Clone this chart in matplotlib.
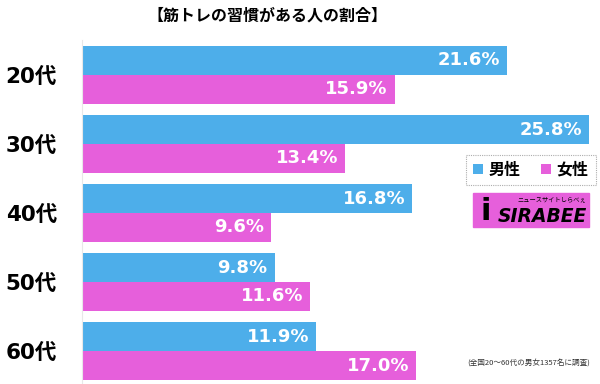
import matplotlib.pyplot as plt
import matplotlib.patches as mpatches
import numpy as np

plt.rcParams['font.family'] = ['Noto Sans CJK JP', 'DejaVu Sans']

ages = ["20代", "30代", "40代", "50代", "60代"]
male = [21.6, 25.8, 16.8, 9.8, 11.9]
female = [15.9, 13.4, 9.6, 11.6, 17.0]
series_labels = ["男性", "女性"]
title = "【筋トレの習慣がある人の割合】"
note = "(全国20〜60代の男女1357名に調査)"

blue = "#4daeea"
pink = "#e65fdb"
num_font = ["DejaVu Sans", "Noto Sans CJK JP"]

W, H = 600, 384
fig = plt.figure(figsize=(W / 100, H / 100), dpi=100)
ax = fig.add_axes([82 / W, 0, 1 - 82 / W, (H - 40) / H])

y = np.arange(len(ages))
h = 0.42
b1 = ax.barh(y - h / 2, male, height=h, color=blue, label=series_labels[0])
b2 = ax.barh(y + h / 2, female, height=h, color=pink, label=series_labels[1])

ax.set_xlim(0, (W - 82) / 19.66)
ax.set_ylim(4.478, -0.507)

for bars, vals in [(b1, male), (b2, female)]:
    for bar, v in zip(bars, vals):
        ax.annotate(f"{v:.1f}%", (v, bar.get_y() + bar.get_height() / 2),
                    xytext=(-5, 0), textcoords="offset points",
                    ha="right", va="center", color="white",
                    fontsize=13, fontweight="bold", family=num_font)

ax.set_yticks(y)
ax.set_yticklabels(ages, fontsize=15.5, fontweight="bold", family=num_font)
ax.tick_params(axis="y", length=0, pad=18)
ax.set_xticks([])
for s in ["top", "right", "bottom"]:
    ax.spines[s].set_visible(False)
ax.spines["left"].set_color("#e8e8e8")

fig.text(267 / W, 1 - 16 / H, title, ha="center", va="center",
         fontsize=11.5, fontweight="bold")

leg = fig.legend(handles=[b1, b2], loc="center", ncol=2,
                 bbox_to_anchor=(531 / W, 1 - 170 / H),
                 prop={"size": 11.5, "weight": "bold"},
                 handlelength=0.6, handleheight=0.6, handletextpad=0.35,
                 columnspacing=1.3, borderpad=0.45, borderaxespad=0,
                 fancybox=False)
leg.get_frame().set_edgecolor("#999999")
leg.get_frame().set_linestyle((0, (1, 1)))
leg.get_frame().set_linewidth(0.8)

# SIRABEE logo (approximation)
fig.add_artist(mpatches.Rectangle((473 / W, 1 - 227 / H), 116 / W, 34 / H,
                                  transform=fig.transFigure, color=pink))
fig.text(486 / W, 1 - 212 / H, "i", ha="center", va="center",
         fontsize=22, fontweight="bold", color="black", family="DejaVu Sans")
fig.text(587 / W, 1 - 216 / H, "SIRABEE", ha="right", va="center",
         fontsize=13.5, fontweight="bold", style="italic", color="black",
         family="DejaVu Sans")
fig.text(586 / W, 1 - 199 / H, "ニュースサイトしらべぇ", ha="right", va="center",
         fontsize=4.5, color="black")

fig.text(590 / W, 1 - 363 / H, note, ha="right", va="center",
         fontsize=5.5, color="#333333")

fig.savefig("out.png", dpi=100)
